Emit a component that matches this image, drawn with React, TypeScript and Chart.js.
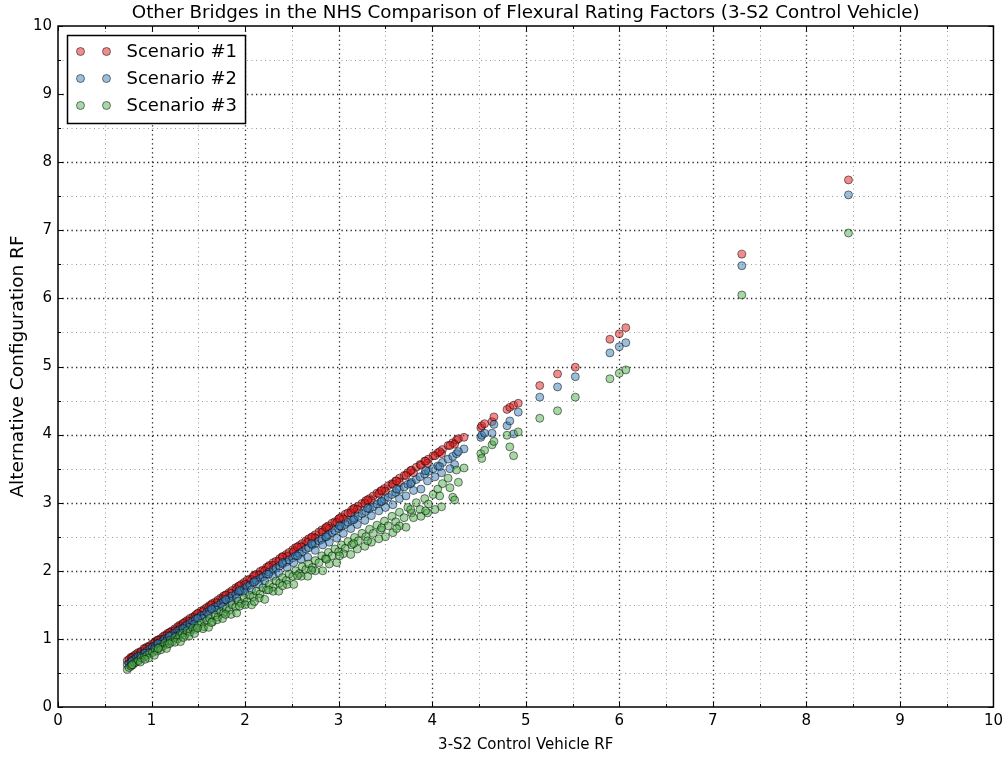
import React, { useEffect, useRef } from 'react';
import { Chart, registerables } from 'chart.js';

Chart.register(...registerables);

const TITLE = 'Other Bridges in the NHS Comparison of Flexural Rating Factors (3-S2 Control Vehicle)';
const X_LABEL = '3-S2 Control Vehicle RF';
const Y_LABEL = 'Alternative Configuration RF';
const SERIES_NAMES = ['Scenario #1', 'Scenario #2', 'Scenario #3'];
const AXIS_MIN = 0;
const AXIS_MAX = 10;
const MAJOR_STEP = 1;
const MINOR_STEP = 0.5;

// 3-S2 control vehicle rating factor (shared x for the three scenarios)
const controlRF = [
  0.74, 0.76, 0.78, 0.80, 0.82, 0.84, 0.86, 0.89, 0.92, 0.95,
  0.98, 1.01, 1.04, 1.06, 1.09, 1.12, 1.14, 1.17, 1.20, 1.22,
  1.25, 1.28, 1.30, 1.33, 1.36, 1.38, 1.41, 1.44, 1.47, 1.50,
  1.53, 1.56, 1.59, 1.62, 1.65, 1.68, 1.71, 1.74, 1.77, 1.80,
  1.83, 1.86, 1.90, 1.93, 1.96, 1.99, 2.02, 2.05, 2.09, 2.12,
  2.16, 2.19, 2.23, 2.26, 2.30, 2.33, 2.37, 2.40, 2.44, 2.47,
  2.51, 2.54, 2.58, 2.61, 2.65, 2.68, 2.72, 2.75, 2.79, 2.82,
  2.86, 2.89, 2.93, 2.96, 3.00, 3.03, 3.07, 3.10, 3.14, 3.17,
  3.21, 3.25, 3.29, 3.33, 3.37, 3.41, 3.45, 3.49, 3.53, 3.57,
  3.61, 3.65, 3.70, 3.74, 3.78, 3.83, 3.87, 3.92, 3.96, 4.01,
  4.06, 4.11, 4.17, 4.22, 4.26, 4.34, 4.52, 4.53, 4.56, 4.64,
  4.66, 4.80, 4.83, 4.87, 4.92, 5.15, 5.34, 5.53, 5.90, 6.00,
  6.07, 7.31, 8.45,
  1.10, 1.25, 1.40, 1.55, 1.70, 1.85, 2.00, 2.15, 2.30, 2.45, 2.60,
  2.75, 2.90, 3.05, 3.20, 3.35, 3.50, 3.65, 3.80, 3.95, 4.10, 4.24,
  0.88, 0.97, 1.03, 1.16, 1.31, 1.46, 1.61, 1.76, 1.91, 2.07, 2.21, 2.36,
  2.52, 2.67, 2.83, 2.98, 3.13, 3.28, 3.43, 3.58, 3.72, 3.88, 4.03, 4.19,
  0.79, 0.93, 1.07, 1.19, 1.34, 1.49, 1.64, 1.79, 1.94, 2.10, 2.25, 2.40,
  2.56, 2.71, 2.87, 3.01, 3.16, 3.31, 3.46, 3.62, 3.77, 3.93, 4.08, 4.28,
];

const scenario1RF = [
  0.68, 0.70, 0.73, 0.74, 0.76, 0.78, 0.80, 0.82, 0.86, 0.88,
  0.90, 0.93, 0.96, 0.98, 1.00, 1.03, 1.05, 1.08, 1.10, 1.12,
  1.15, 1.18, 1.20, 1.22, 1.25, 1.27, 1.30, 1.32, 1.35, 1.38,
  1.41, 1.43, 1.46, 1.49, 1.52, 1.54, 1.57, 1.60, 1.63, 1.65,
  1.68, 1.71, 1.75, 1.77, 1.80, 1.83, 1.86, 1.88, 1.92, 1.95,
  1.99, 2.01, 2.05, 2.08, 2.12, 2.14, 2.18, 2.21, 2.24, 2.27,
  2.31, 2.34, 2.37, 2.40, 2.44, 2.47, 2.50, 2.53, 2.57, 2.60,
  2.63, 2.66, 2.70, 2.72, 2.76, 2.79, 2.83, 2.85, 2.89, 2.92,
  2.95, 2.99, 3.03, 3.06, 3.10, 3.14, 3.17, 3.21, 3.25, 3.28,
  3.32, 3.36, 3.40, 3.44, 3.48, 3.52, 3.56, 3.61, 3.64, 3.69,
  3.73, 3.78, 3.84, 3.88, 3.92, 3.96, 4.10, 4.13, 4.16, 4.19,
  4.26, 4.37, 4.40, 4.43, 4.46, 4.72, 4.89, 4.99, 5.40, 5.48,
  5.57, 6.65, 7.74,
  0.99, 1.12, 1.26, 1.40, 1.53, 1.67, 1.80, 1.94, 2.08, 2.21, 2.35,
  2.48, 2.62, 2.76, 2.90, 3.03, 3.17, 3.30, 3.44, 3.58, 3.72, 3.86,
  0.80, 0.88, 0.94, 1.05, 1.18, 1.32, 1.46, 1.59, 1.73, 1.87, 2.00, 2.14,
  2.28, 2.42, 2.57, 2.71, 2.85, 2.99, 3.13, 3.27, 3.40, 3.55, 3.69, 3.84,
  0.72, 0.85, 0.98, 1.09, 1.23, 1.37, 1.50, 1.64, 1.78, 1.93, 2.06, 2.20,
  2.35, 2.49, 2.64, 2.77, 2.91, 3.04, 3.18, 3.32, 3.47, 3.61, 3.75, 3.94,
];

const scenario2RF = [
  0.62, 0.64, 0.66, 0.69, 0.70, 0.73, 0.75, 0.77, 0.79, 0.82,
  0.85, 0.88, 0.90, 0.93, 0.95, 0.97, 1.00, 1.01, 1.05, 1.06,
  1.09, 1.12, 1.13, 1.16, 1.19, 1.20, 1.23, 1.26, 1.29, 1.31,
  1.34, 1.35, 1.39, 1.42, 1.43, 1.47, 1.49, 1.52, 1.55, 1.57,
  1.60, 1.63, 1.66, 1.69, 1.71, 1.74, 1.77, 1.79, 1.83, 1.86,
  1.89, 1.91, 1.95, 1.98, 2.01, 2.04, 2.07, 2.10, 2.13, 2.16,
  2.19, 2.22, 2.25, 2.28, 2.32, 2.34, 2.38, 2.40, 2.44, 2.46,
  2.50, 2.53, 2.56, 2.59, 2.62, 2.65, 2.68, 2.71, 2.74, 2.77,
  2.80, 2.84, 2.87, 2.91, 2.94, 2.98, 3.01, 3.05, 3.08, 3.12,
  3.15, 3.19, 3.23, 3.27, 3.30, 3.34, 3.38, 3.42, 3.46, 3.50,
  3.54, 3.59, 3.64, 3.68, 3.72, 3.79, 3.96, 3.99, 4.02, 4.02,
  4.15, 4.13, 4.20, 4.01, 4.33, 4.55, 4.70, 4.85, 5.20, 5.29,
  5.35, 6.48, 7.52,
  0.92, 1.04, 1.17, 1.30, 1.42, 1.55, 1.68, 1.80, 1.92, 2.05, 2.17,
  2.30, 2.42, 2.55, 2.68, 2.81, 2.93, 3.06, 3.18, 3.32, 3.44, 3.56,
  0.74, 0.80, 0.86, 0.97, 1.09, 1.22, 1.36, 1.47, 1.60, 1.72, 1.85, 1.97,
  2.12, 2.20, 2.38, 2.48, 2.62, 2.74, 2.88, 2.97, 3.10, 3.20, 3.38, 3.50,
  0.67, 0.79, 0.93, 1.04, 1.15, 1.30, 1.44, 1.58, 1.71, 1.84, 1.95, 2.12,
  2.22, 2.40, 2.50, 2.66, 2.75, 2.92, 3.02, 3.20, 3.28, 3.47, 3.53, 3.75,
];

const scenario3RF = [
  0.55, 0.58, 0.60, 0.62, 0.65, 0.66, 0.68, 0.72, 0.73, 0.76,
  0.79, 0.80, 0.84, 0.82, 0.88, 0.89, 0.94, 0.92, 0.98, 0.96,
  1.02, 1.00, 1.05, 1.08, 1.06, 1.12, 1.10, 1.16, 1.14, 1.20,
  1.23, 1.18, 1.27, 1.30, 1.25, 1.35, 1.32, 1.40, 1.38, 1.44,
  1.42, 1.50, 1.47, 1.55, 1.52, 1.60, 1.55, 1.64, 1.62, 1.70,
  1.66, 1.75, 1.72, 1.80, 1.76, 1.85, 1.82, 1.90, 1.86, 1.95,
  1.92, 2.00, 1.96, 2.06, 2.02, 2.10, 2.05, 2.15, 2.12, 2.22,
  2.18, 2.27, 2.22, 2.32, 2.28, 2.38, 2.33, 2.43, 2.38, 2.49,
  2.44, 2.55, 2.50, 2.61, 2.55, 2.67, 2.60, 2.73, 2.66, 2.80,
  2.72, 2.86, 2.78, 2.93, 2.85, 3.00, 2.90, 3.06, 2.98, 3.12,
  3.20, 3.28, 3.36, 3.08, 3.48, 3.51, 3.72, 3.65, 3.77, 3.85,
  3.90, 3.99, 3.82, 3.69, 4.04, 4.24, 4.35, 4.55, 4.82, 4.90,
  4.95, 6.05, 6.96,
  0.84, 0.95, 1.04, 1.15, 1.28, 1.36, 1.50, 1.60, 1.70, 1.80, 1.92,
  2.00, 2.10, 2.25, 2.32, 2.42, 2.50, 2.66, 2.78, 2.85, 2.94, 3.04,
  0.66, 0.72, 0.76, 0.86, 0.96, 1.08, 1.17, 1.30, 1.38, 1.50, 1.58, 1.70,
  1.80, 1.92, 2.00, 2.12, 2.24, 2.36, 2.47, 2.56, 2.64, 2.80, 2.90, 3.22,
  0.62, 0.70, 0.86, 0.93, 1.02, 1.16, 1.24, 1.36, 1.48, 1.55, 1.72, 1.78,
  1.93, 2.01, 2.17, 2.22, 2.40, 2.44, 2.63, 2.62, 2.90, 2.88, 3.10, 3.30,
];

const SERIES_VALUES = [scenario1RF, scenario2RF, scenario3RF];
const FILL_COLORS = ['rgba(228,26,28,0.5)', 'rgba(55,126,184,0.5)', 'rgba(77,175,74,0.5)'];
const EDGE_COLOR = 'rgba(0,0,0,0.5)';
const FONT = 'DejaVu Sans';
const MARKER_R = 4;

function stepsOf(step: number): number[] {
  const out: number[] = [];
  const n = Math.round((AXIS_MAX - AXIS_MIN) / step);
  for (let i = 0; i <= n; i++) out.push(AXIS_MIN + i * step);
  return out;
}

const gridPlugin = {
  id: 'mplGrid',
  beforeDatasetsDraw(chart: any) {
    const { ctx, chartArea, scales } = chart;
    const { left, right, top, bottom } = chartArea;
    const xs = scales.x;
    const ys = scales.y;
    ctx.save();
    const vals = stepsOf(MINOR_STEP);
    vals.forEach((v) => {
      const major = Math.abs(v / MAJOR_STEP - Math.round(v / MAJOR_STEP)) < 1e-6;
      if (v === AXIS_MIN || v === AXIS_MAX) return;
      ctx.strokeStyle = major ? 'rgba(0,0,0,0.85)' : 'rgba(0,0,0,0.4)';
      ctx.lineWidth = major ? 1.3 : 1;
      ctx.setLineDash(major ? [1.3, 3.2] : [1, 3.5]);
      const px = Math.round(xs.getPixelForValue(v)) + 0.5;
      ctx.beginPath();
      ctx.moveTo(px, bottom);
      ctx.lineTo(px, top);
      ctx.stroke();
      const py = Math.round(ys.getPixelForValue(v)) + 0.5;
      ctx.beginPath();
      ctx.moveTo(left, py);
      ctx.lineTo(right, py);
      ctx.stroke();
    });
    ctx.restore();
  },
  afterDatasetsDraw(chart: any) {
    const { ctx, chartArea, scales } = chart;
    const { left, right, top, bottom } = chartArea;
    const xs = scales.x;
    const ys = scales.y;
    ctx.save();
    ctx.setLineDash([]);
    ctx.strokeStyle = '#000';
    ctx.lineWidth = 1;
    stepsOf(MINOR_STEP).forEach((v) => {
      const major = Math.abs(v / MAJOR_STEP - Math.round(v / MAJOR_STEP)) < 1e-6;
      const len = major ? 5 : 3;
      const px = Math.round(xs.getPixelForValue(v)) + 0.5;
      const py = Math.round(ys.getPixelForValue(v)) + 0.5;
      ctx.beginPath();
      ctx.moveTo(px, bottom); ctx.lineTo(px, bottom - len);
      ctx.moveTo(px, top); ctx.lineTo(px, top + len);
      ctx.moveTo(left, py); ctx.lineTo(left + len, py);
      ctx.moveTo(right, py); ctx.lineTo(right - len, py);
      ctx.stroke();
    });
    ctx.lineWidth = 1.5;
    ctx.strokeRect(left, top, right - left, bottom - top);
    ctx.restore();
  },
};

const legendPlugin = {
  id: 'mplLegend',
  afterDraw(chart: any) {
    const { ctx, chartArea } = chart;
    const bx = chartArea.left + 9.5;
    const by = chartArea.top + 9.5;
    const bw = 178;
    const bh = 88;
    ctx.save();
    ctx.fillStyle = '#fff';
    ctx.fillRect(bx, by, bw, bh);
    ctx.strokeStyle = '#000';
    ctx.lineWidth = 1.5;
    ctx.strokeRect(bx, by, bw, bh);
    SERIES_NAMES.forEach((name, i) => {
      const cy = by + 16 + i * 27;
      [bx + 13, bx + 39].forEach((cx) => {
        ctx.beginPath();
        ctx.arc(cx, cy, MARKER_R, 0, Math.PI * 2);
        ctx.fillStyle = FILL_COLORS[i];
        ctx.fill();
        ctx.lineWidth = 1;
        ctx.strokeStyle = EDGE_COLOR;
        ctx.stroke();
      });
      ctx.fillStyle = '#000';
      ctx.font = `18px "${FONT}"`;
      ctx.textAlign = 'left';
      ctx.textBaseline = 'middle';
      ctx.fillText(name, bx + 59, cy + 1);
    });
    ctx.restore();
  },
};

export default function App() {
  const canvasRef = useRef<HTMLCanvasElement | null>(null);

  useEffect(() => {
    document.body.style.margin = '0';
    const canvas = canvasRef.current;
    if (!canvas) return;
    const datasets = SERIES_NAMES.map((name, i) => ({
      label: name,
      data: controlRF.map((x, k) => ({ x, y: SERIES_VALUES[i][k] })),
      xAxisID: 'x',
      yAxisID: 'y',
      backgroundColor: FILL_COLORS[i],
      borderColor: EDGE_COLOR,
      borderWidth: 1,
      pointRadius: MARKER_R,
      pointHoverRadius: MARKER_R,
      showLine: false,
      order: SERIES_NAMES.length - i,
    }));
    const chart = new Chart(canvas, {
      type: 'scatter',
      data: { datasets },
      plugins: [gridPlugin, legendPlugin],
      options: {
        animation: false,
        responsive: false,
        events: [],
        layout: { padding: { left: 0, right: 13, top: 0, bottom: 0 } },
        plugins: {
          legend: { display: false },
          tooltip: { enabled: false },
          title: { display: false },
        },
        scales: {
          x: {
            type: 'linear',
            position: 'bottom',
            min: AXIS_MIN,
            max: AXIS_MAX,
            grid: { display: false, drawTicks: false },
            border: { display: false },
            ticks: {
              stepSize: MAJOR_STEP,
              color: '#000',
              font: { family: FONT, size: 15 },
              padding: 5,
              maxRotation: 0,
              autoSkip: false,
            },
            title: {
              display: true,
              text: X_LABEL,
              color: '#000',
              font: { family: FONT, size: 15 },
              padding: { top: 0, bottom: 3 },
            },
            afterFit: (s: any) => { s.height = 50; },
          },
          titleAxis: {
            type: 'linear',
            position: 'top',
            axis: 'x',
            min: AXIS_MIN,
            max: AXIS_MAX,
            grid: { display: false, drawTicks: false },
            border: { display: false },
            ticks: { display: false },
            title: {
              display: true,
              text: TITLE,
              color: '#000',
              font: { family: FONT, size: 18.3, weight: 'normal' },
              padding: { top: 2.5, bottom: 0 },
            },
            afterFit: (s: any) => { s.height = 26; },
          },
          y: {
            type: 'linear',
            min: AXIS_MIN,
            max: AXIS_MAX,
            grid: { display: false, drawTicks: false },
            border: { display: false },
            ticks: {
              stepSize: MAJOR_STEP,
              color: '#000',
              font: { family: FONT, size: 15 },
              padding: 6,
              autoSkip: false,
            },
            title: {
              display: true,
              text: Y_LABEL,
              color: '#000',
              font: { family: FONT, size: 18.5 },
              padding: { top: 7, bottom: 0 },
            },
            afterFit: (s: any) => { s.width = 58; },
          },
        },
      } as any,
    });
    return () => chart.destroy();
  }, []);

  return (
    <div style={{ width: 1008, height: 757 }}>
      <canvas ref={canvasRef} width={1008} height={757} style={{ display: 'block' }} />
    </div>
  );
}
